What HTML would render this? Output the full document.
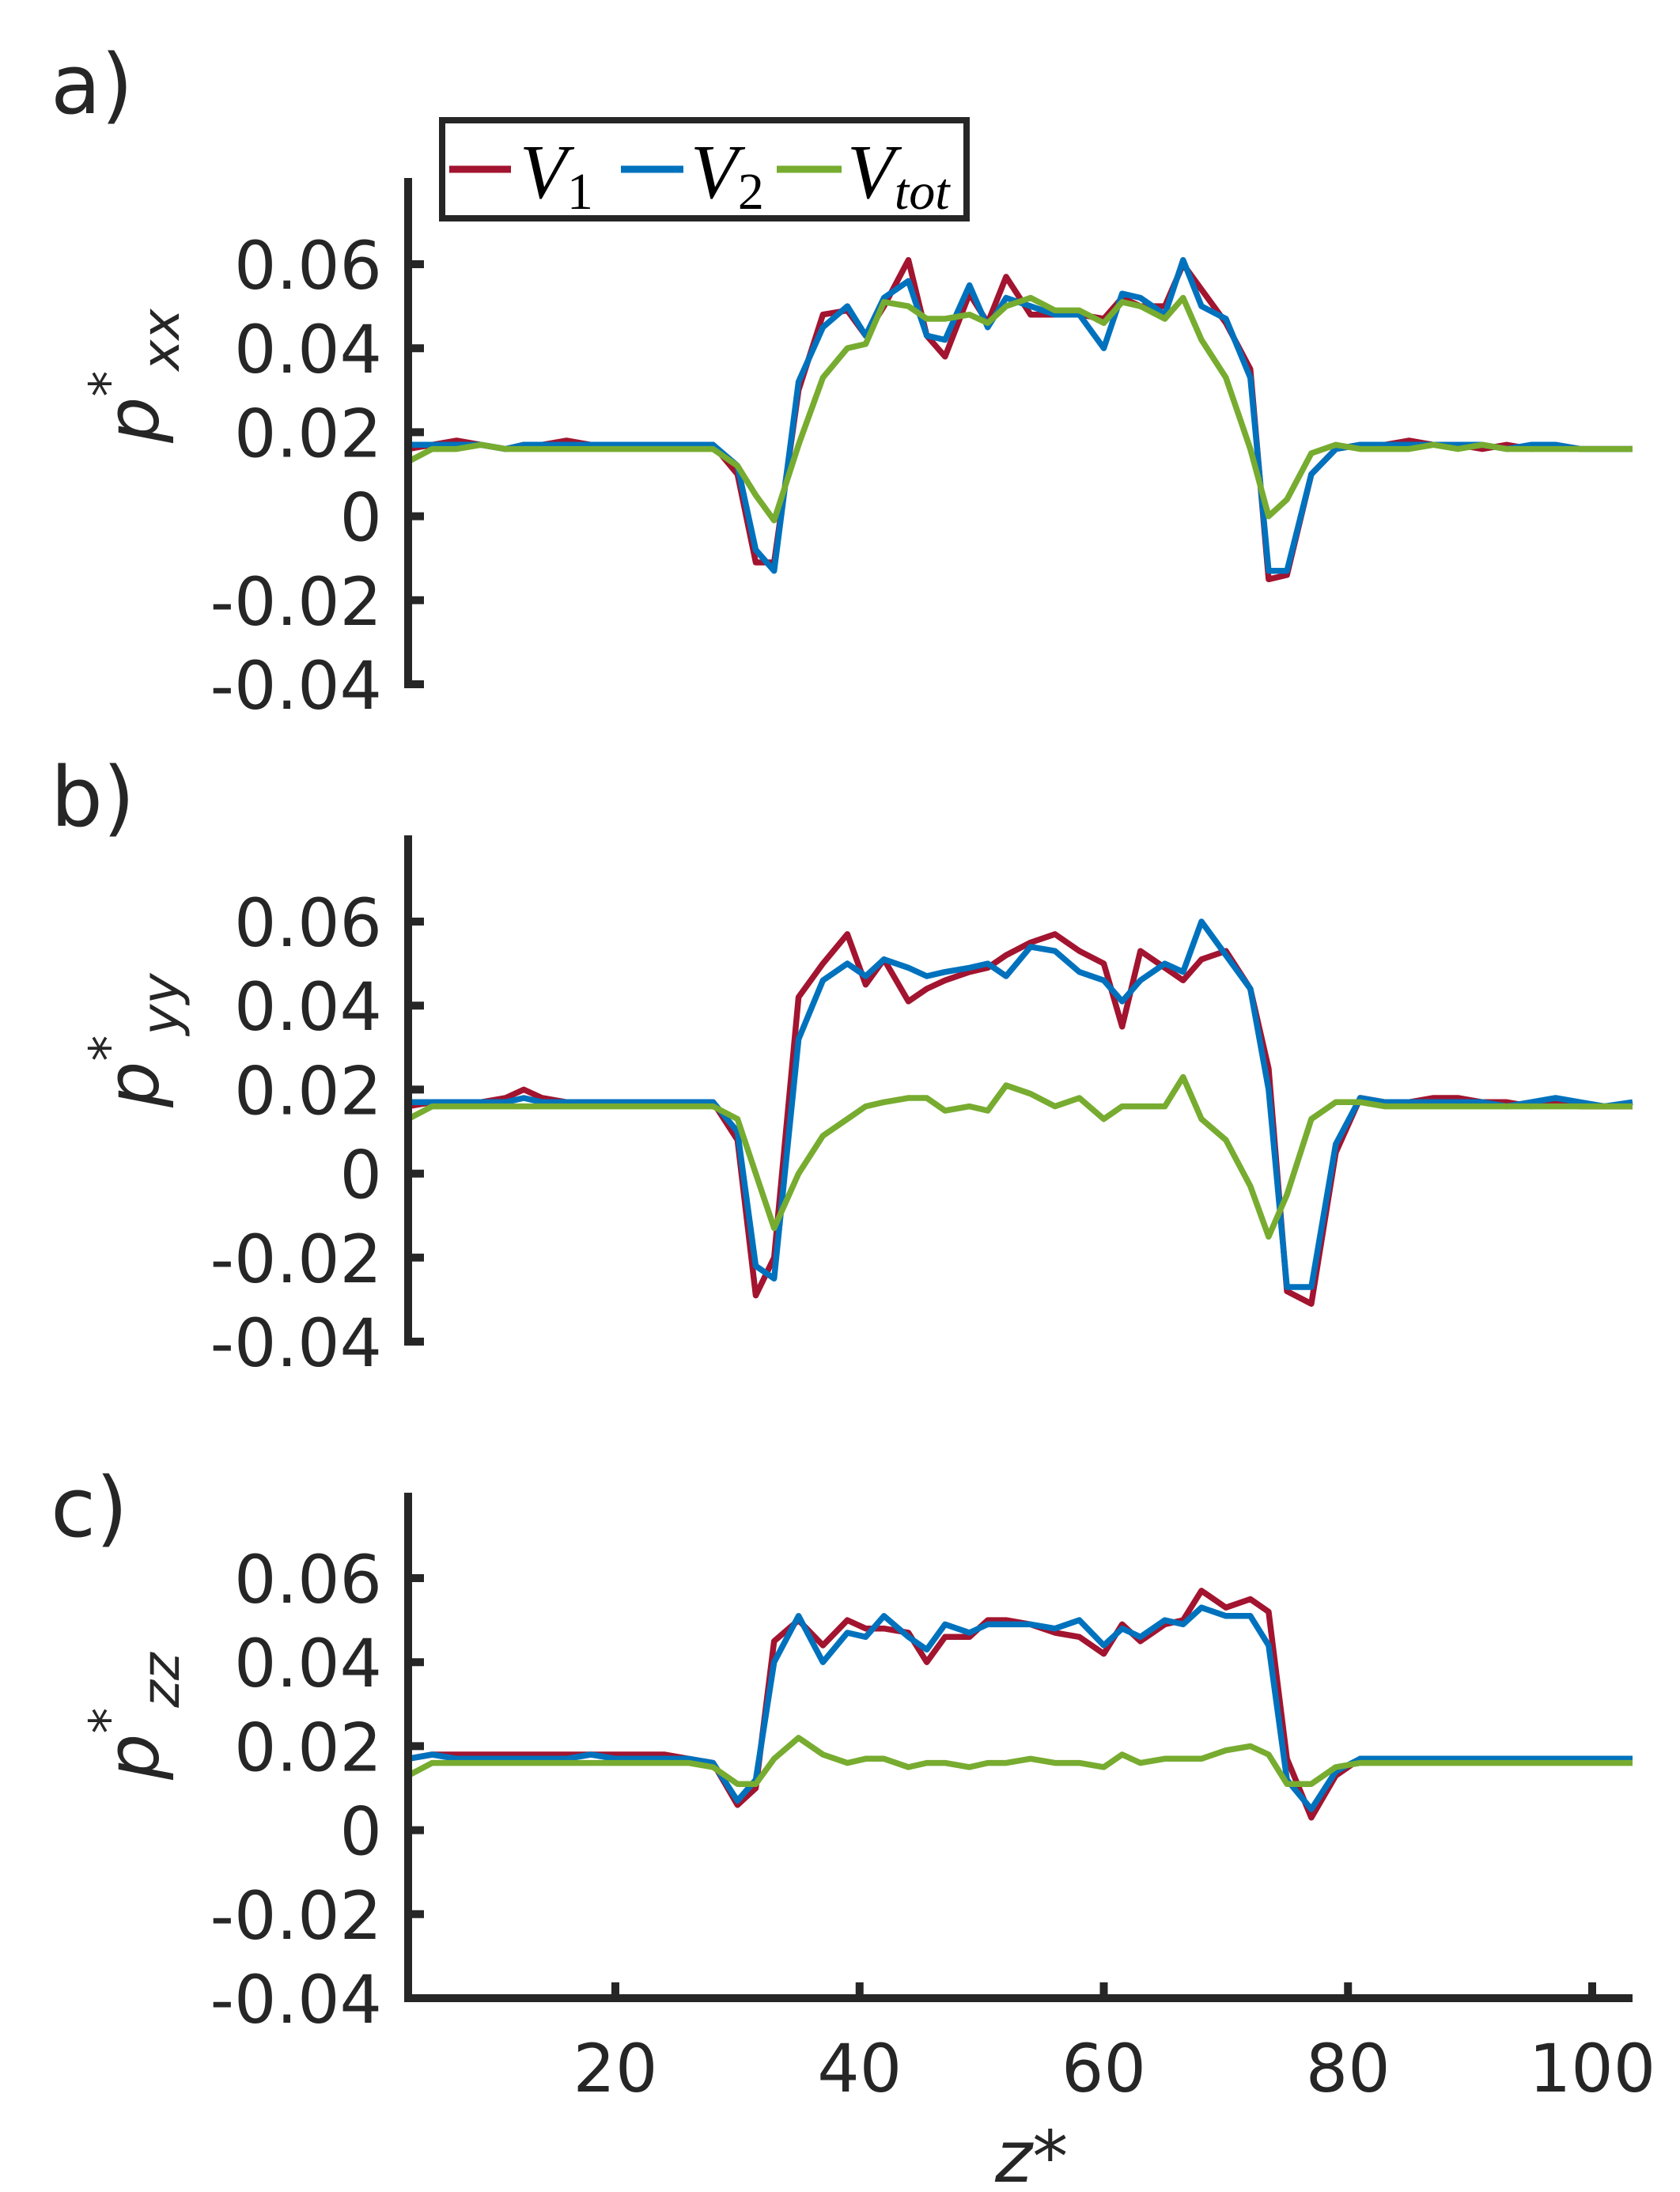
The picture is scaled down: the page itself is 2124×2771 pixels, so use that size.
<!DOCTYPE html>
<html><head><meta charset="utf-8"><style>
html,body{margin:0;padding:0;background:#fff;}
svg{display:block;}
text{font-family:"DejaVu Sans","Liberation Sans",sans-serif;fill:#262626;}
.tk{font-size:84px;text-anchor:end;}
.xt{font-size:84px;text-anchor:middle;}
.lg{font-family:"Liberation Serif",serif;font-style:italic;fill:#000;}
</style></head><body>
<svg id="s" width="2124" height="2771" viewBox="0 0 2124 2771" xmlns="http://www.w3.org/2000/svg">
<g id="g"></g>
<text x="64" y="143" style="font-size:104px">a)</text>
<text x="64" y="1044" style="font-size:104px">b)</text>
<text x="64" y="1942" style="font-size:104px">c)</text>
<text transform="translate(200,560) rotate(-90)" style="font-size:92px;font-style:italic">p<tspan dy="-40" font-size="66">*</tspan><tspan dy="66" font-size="66">xx</tspan></text>
<text transform="translate(200,1400) rotate(-90)" style="font-size:92px;font-style:italic">p<tspan dy="-40" font-size="66">*</tspan><tspan dy="66" font-size="66">yy</tspan></text>
<text transform="translate(200,2250) rotate(-90)" style="font-size:92px;font-style:italic">p<tspan dy="-40" font-size="66">*</tspan><tspan dy="66" font-size="66">zz</tspan></text>
<text x="1258" y="2758" style="font-size:90px;font-style:italic">z*</text>
<rect x="559" y="152" width="663" height="124" fill="#fff" stroke="#262626" stroke-width="8"/>
<line x1="568" y1="214" x2="646" y2="214" stroke="#A2142F" stroke-width="9"/>
<line x1="785" y1="214" x2="864" y2="214" stroke="#0072BD" stroke-width="9"/>
<line x1="982" y1="214" x2="1064" y2="214" stroke="#77AC30" stroke-width="9"/>
<text class="lg" x="657" y="250" font-size="98">V<tspan font-size="66" dy="14" font-style="normal">1</tspan></text>
<text class="lg" x="873" y="250" font-size="98">V<tspan font-size="66" dy="14" font-style="normal">2</tspan></text>
<text class="lg" x="1071" y="250" font-size="98">V<tspan font-size="66" dy="14">tot</tspan></text>
</svg>
<script>
var NS="http://www.w3.org/2000/svg",g=document.getElementById('g');
function el(n,a){var e=document.createElementNS(NS,n);for(var k in a)e.setAttribute(k,a[k]);g.appendChild(e);return e;}
var AX=516,XR=2064;
function xt(z){return 778+(z-20)*15.4375;}
function xd(z){return Math.min(XR,Math.max(AX,xt(z)));}
function mk(pre,mid,post){return pre.concat(mid).concat(post);}
var A={
r:mk([0.016,0.017,0.018,0.017,0.016,0.017,0.017,0.018,0.017,0.017,0.017,0.017,0.017,0.017],[0.01,-0.011,-0.011,0.03,0.048,0.049,0.043,0.05,0.061,0.043,0.038,0.053,0.046,0.057,0.048,0.048,0.048,0.047,0.052,0.05,0.05,0.06,0.054,0.046,0.035,-0.015,-0.014,0.01,0.016],[0.017,0.017,0.018,0.017,0.017,0.016,0.017,0.016,0.017,0.016,0.016,0.016]),
b:mk([0.017,0.017,0.017,0.017,0.016,0.017,0.017,0.017,0.017,0.017,0.017,0.017,0.017,0.017],[0.012,-0.008,-0.013,0.032,0.045,0.05,0.043,0.052,0.056,0.043,0.042,0.055,0.045,0.052,0.05,0.048,0.048,0.04,0.053,0.052,0.048,0.061,0.05,0.047,0.033,-0.013,-0.013,0.01,0.016],[0.017,0.017,0.017,0.017,0.017,0.017,0.016,0.017,0.017,0.016,0.016,0.016]),
g:mk([0.013,0.016,0.016,0.017,0.016,0.016,0.016,0.016,0.016,0.016,0.016,0.016,0.016,0.016],[0.012,0.005,-0.001,0.017,0.033,0.04,0.041,0.051,0.05,0.047,0.047,0.048,0.046,0.05,0.052,0.049,0.049,0.046,0.051,0.05,0.047,0.052,0.042,0.033,0.016,0,0.004,0.015,0.017],[0.016,0.016,0.016,0.017,0.016,0.017,0.016,0.016,0.016,0.016,0.016,0.016])};
var B={
r:mk([0.016,0.017,0.017,0.017,0.018,0.02,0.018,0.017,0.017,0.017,0.017,0.017,0.017,0.017],[0.008,-0.029,-0.02,0.042,0.05,0.057,0.045,0.051,0.041,0.044,0.046,0.048,0.049,0.052,0.055,0.057,0.053,0.05,0.035,0.053,0.049,0.046,0.051,0.053,0.044,0.025,-0.028,-0.031,0.005],[0.018,0.017,0.017,0.018,0.018,0.017,0.017,0.016,0.017,0.016,0.016,0.016]),
b:mk([0.017,0.017,0.017,0.017,0.017,0.018,0.017,0.017,0.017,0.017,0.017,0.017,0.017,0.017],[0.01,-0.022,-0.025,0.032,0.046,0.05,0.047,0.051,0.049,0.047,0.048,0.049,0.05,0.047,0.054,0.053,0.048,0.046,0.041,0.046,0.05,0.048,0.06,0.052,0.044,0.02,-0.027,-0.027,0.007],[0.018,0.017,0.017,0.017,0.017,0.017,0.016,0.017,0.018,0.017,0.016,0.017]),
g:mk([0.013,0.016,0.016,0.016,0.016,0.016,0.016,0.016,0.016,0.016,0.016,0.016,0.016,0.016],[0.013,0,-0.013,0,0.009,0.013,0.016,0.017,0.018,0.018,0.015,0.016,0.015,0.021,0.019,0.016,0.018,0.013,0.016,0.016,0.016,0.023,0.013,0.008,-0.003,-0.015,-0.005,0.013,0.017],[0.017,0.016,0.016,0.016,0.016,0.016,0.016,0.016,0.016,0.016,0.016,0.016])};
var C={
r:mk([0.017,0.018,0.018,0.018,0.018,0.018,0.018,0.018,0.018,0.018,0.018,0.018,0.017,0.016],[0.006,0.01,0.045,0.05,0.044,0.05,0.048,0.048,0.047,0.04,0.046,0.046,0.05,0.05,0.049,0.047,0.046,0.042,0.049,0.045,0.049,0.05,0.057,0.053,0.055,0.052,0.017,0.003,0.013],[0.017,0.017,0.017,0.017,0.017,0.017,0.017,0.017,0.017,0.017,0.017,0.017]),
b:mk([0.017,0.018,0.017,0.017,0.017,0.017,0.017,0.017,0.018,0.017,0.017,0.017,0.017,0.016],[0.007,0.012,0.04,0.051,0.04,0.047,0.046,0.051,0.046,0.043,0.049,0.047,0.049,0.049,0.049,0.048,0.05,0.044,0.048,0.046,0.05,0.049,0.053,0.051,0.051,0.044,0.012,0.005,0.014],[0.017,0.017,0.017,0.017,0.017,0.017,0.017,0.017,0.017,0.017,0.017,0.017]),
g:mk([0.013,0.016,0.016,0.016,0.016,0.016,0.016,0.016,0.016,0.016,0.016,0.016,0.016,0.015],[0.011,0.011,0.017,0.022,0.018,0.016,0.017,0.017,0.015,0.016,0.016,0.015,0.016,0.016,0.017,0.016,0.016,0.015,0.018,0.016,0.017,0.017,0.017,0.019,0.02,0.018,0.011,0.011,0.015],[0.016,0.016,0.016,0.016,0.016,0.016,0.016,0.016,0.016,0.016,0.016,0.016])};
var zz=[3.2,5,7,9,11,12.5,14,16,18,20,22,24,26,28,30,31.5,33,35,37,39,40.5,42,44,45.5,47,49,50.5,52,54,56,58,60,61.5,63,65,66.5,68,70,72,73.5,75,77,79,81,83,85,87,89,91,93,95,97,99,101,103];
function panel(bot,top,D,xaxis){
  function yp(v){return bot-(v+0.04)*5310;}
  var cols={r:"#A2142F",b:"#0072BD",g:"#77AC30"};
  ["r","b","g"].forEach(function(k){
    var d=D[k],pts=[];
    var n=Math.min(d.length,zz.length);
    for(var i=0;i<n;i++){
      var x=(i==0)?AX:((i==n-1)?XR:xd(zz[i]));
      pts.push(x.toFixed(1)+","+yp(d[i]).toFixed(1));
    }
    el("polyline",{points:pts.join(" "),fill:"none",stroke:cols[k],"stroke-width":7.5,"stroke-linejoin":"round"});
  });
  el("line",{x1:AX,y1:top,x2:AX,y2:bot+5,stroke:"#262626","stroke-width":10});
  var labs=["-0.04","-0.02","0","0.02","0.04","0.06"];
  for(var i=0;i<6;i++){
    var v=-0.04+0.02*i,y=yp(v);
    el("line",{x1:AX,y1:y,x2:AX+20,y2:y,stroke:"#262626","stroke-width":10});
    var t=el("text",{x:483,y:y+31,"class":"tk"});t.textContent=labs[i];
  }
  if(xaxis){
    el("line",{x1:AX-5,y1:bot,x2:XR,y2:bot,stroke:"#262626","stroke-width":10});
    [20,40,60,80,100].forEach(function(z){
      var x=xt(z);
      el("line",{x1:x,y1:bot,x2:x,y2:bot-20,stroke:"#262626","stroke-width":10});
      var t=el("text",{x:x,y:bot+118,"class":"xt"});t.textContent=z;
    });
  }
}
panel(865,225,A,false);
panel(1696,1056,B,false);
panel(2526,1887,C,true);
</script>
</body></html>
